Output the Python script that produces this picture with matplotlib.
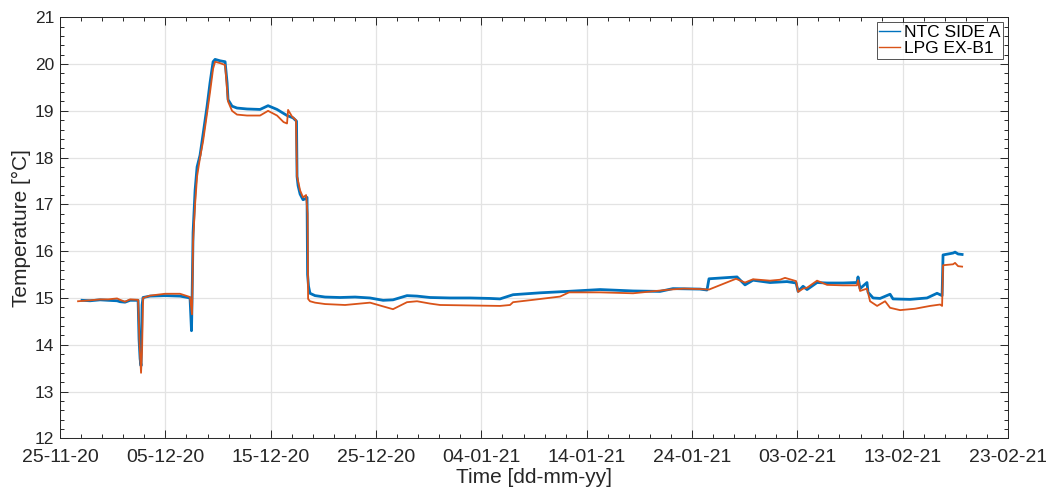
import matplotlib
matplotlib.use('Agg')
import matplotlib.pyplot as plt
import matplotlib.dates as mdates
from matplotlib.ticker import AutoMinorLocator
import numpy as np
import pandas as pd

plt.rcParams['font.family'] = ['Liberation Sans', 'DejaVu Sans']

t0 = pd.Timestamp('2020-11-25')

# NTC SIDE A: days since 25-11-20, temperature in degC
ntc_days = [2.09, 2.85, 3.80, 4.56, 5.41, 5.70, 6.17, 6.65, 7.41, 7.50, 7.60, 7.69,
            7.79, 7.88, 8.54, 9.97, 11.39, 12.34, 12.48, 12.53, 12.63, 12.82, 13.01,
            13.29, 13.58, 13.96, 14.24, 14.53, 14.72, 15.19, 15.67, 15.86, 15.95,
            16.33, 16.80, 17.75, 18.99, 19.75, 20.60, 21.55, 22.12, 22.45, 22.50,
            22.60, 22.79, 23.07, 23.36, 23.45, 23.50, 23.59, 23.73, 24.21, 25.16,
            26.58, 28.01, 29.43, 30.67, 31.61, 32.94, 33.89, 35.13, 37.03, 38.93,
            40.82, 41.77, 43.01, 45.57, 48.13, 51.27, 54.40, 56.96, 58.19, 60.76,
            61.42, 61.61, 62.95, 64.27, 65.03, 65.79, 67.41, 69.02, 69.88, 70.07,
            70.54, 70.92, 71.87, 72.82, 74.34, 75.66, 75.76, 75.95, 76.61, 76.71,
            77.19, 77.85, 78.80, 79.08, 80.70, 82.31, 83.26, 83.74, 83.83, 84.31,
            84.78, 84.97, 85.26, 85.64]
ntc_temp = [14.95, 14.94, 14.96, 14.95, 14.94, 14.92, 14.91, 14.95, 14.95, 14.12, 13.70, 13.55,
            14.85, 15.01, 15.04, 15.05, 15.04, 15.00, 14.30, 14.90, 16.40, 17.30, 17.80,
            18.05, 18.50, 19.10, 19.60, 20.05, 20.10, 20.07, 20.05, 19.60, 19.24,
            19.10, 19.06, 19.04, 19.03, 19.11, 19.03, 18.90, 18.85, 18.78, 17.60,
            17.40, 17.22, 17.10, 17.13, 17.15, 15.50, 15.25, 15.10, 15.05, 15.02,
            15.01, 15.02, 15.00, 14.95, 14.96, 15.05, 15.04, 15.01, 15.00, 15.00,
            14.99, 14.98, 15.07, 15.11, 15.14, 15.18, 15.15, 15.14, 15.20, 15.19,
            15.17, 15.41, 15.43, 15.45, 15.28, 15.38, 15.33, 15.35, 15.32, 15.14,
            15.25, 15.18, 15.33, 15.32, 15.32, 15.33, 15.45, 15.20, 15.33, 15.12,
            15.00, 14.99, 15.08, 14.98, 14.97, 15.00, 15.10, 15.05, 15.92, 15.94,
            15.96, 15.98, 15.94, 15.93]

# LPG EX-B1
lpg_days = [1.71, 2.85, 3.80, 4.56, 5.41, 5.70, 6.17, 6.65, 7.41, 7.55, 7.69, 7.79,
            7.88, 8.54, 9.97, 11.39, 12.34, 12.53, 12.63, 12.82, 13.01, 13.29, 13.58,
            13.96, 14.24, 14.53, 14.72, 15.19, 15.67, 15.95, 16.33, 16.80, 17.75,
            18.99, 19.75, 20.60, 21.22, 21.55, 21.65, 22.02, 22.40, 22.50, 22.79,
            23.07, 23.36, 23.50, 23.55, 23.73, 24.21, 25.16, 27.06, 29.43, 30.67,
            31.61, 32.94, 33.89, 35.13, 36.08, 41.77, 42.72, 43.01, 44.91, 47.47,
            48.32, 51.27, 54.40, 57.91, 59.24, 60.76, 61.61, 64.17, 65.03, 65.79,
            67.41, 68.35, 68.83, 69.88, 70.07, 70.54, 70.92, 71.87, 72.82, 74.34,
            75.66, 75.76, 75.95, 76.61, 76.90, 77.57, 78.33, 78.80, 79.75, 81.17,
            82.60, 83.55, 83.74, 83.83, 84.78, 84.97, 85.26, 85.64]
lpg_temp = [14.93, 14.95, 14.97, 14.97, 14.99, 14.96, 14.92, 14.97, 14.96, 14.00, 13.40, 13.90,
            15.00, 15.05, 15.09, 15.09, 15.02, 14.65, 16.20, 17.00, 17.60, 18.00, 18.35,
            18.95, 19.40, 19.90, 20.05, 20.02, 19.98, 19.20, 19.00, 18.92, 18.90,
            18.90, 19.00, 18.90, 18.76, 18.73, 19.02, 18.88, 18.80, 17.60, 17.30,
            17.15, 17.20, 16.80, 14.98, 14.93, 14.90, 14.87, 14.85, 14.90, 14.82,
            14.76, 14.91, 14.93, 14.88, 14.85, 14.83, 14.85, 14.91, 14.96, 15.03,
            15.12, 15.12, 15.10, 15.18, 15.20, 15.19, 15.18, 15.41, 15.33, 15.40,
            15.37, 15.39, 15.43, 15.36, 15.13, 15.20, 15.22, 15.37, 15.28, 15.27,
            15.27, 15.38, 15.15, 15.20, 14.93, 14.83, 14.93, 14.79, 14.74, 14.77,
            14.83, 14.86, 14.83, 15.70, 15.72, 15.75, 15.68, 15.67]


def to_dates(days):
    return t0 + pd.to_timedelta(np.array(days), unit='D')


ink = '#262626'
fig = plt.figure(figsize=(10.46, 4.91), dpi=100)
ax = fig.add_axes([0.0574, 0.1073, 0.9063, 0.8575])

ax.plot(to_dates(ntc_days), ntc_temp, '-', color='#0072BD', lw=2.0, label='NTC SIDE A')
ax.plot(to_dates(lpg_days), lpg_temp, '-', color='#D95319', lw=1.3, label='LPG EX-B1')

xmajor = [t0 + pd.Timedelta(days=10 * k) for k in range(10)]
xminor = [t0 + pd.Timedelta(days=2 * k) for k in range(46)]
ax.set_xlim(xmajor[0], xmajor[-1])
ax.set_xticks(xmajor)
ax.set_xticks(xminor, minor=True)
ax.xaxis.set_major_formatter(mdates.DateFormatter('%d-%m-%y'))

ax.set_ylim(12, 21)
ax.set_yticks(np.arange(12, 22, 1))
ax.yaxis.set_minor_locator(AutoMinorLocator(5))

ax.grid(True, which='major', color='#e3e3e3', lw=0.9)
ax.set_axisbelow(True)
for s in ax.spines.values():
    s.set_color(ink)
    s.set_linewidth(0.7)
ax.tick_params(which='both', direction='in', top=True, right=True, color=ink, width=0.7)
ax.tick_params(which='major', length=5.5)
ax.tick_params(which='minor', length=3.2)
ax.tick_params(axis='x', labelsize=14, labelcolor=ink, pad=8)
ax.tick_params(axis='y', labelsize=12.5, labelcolor=ink, pad=4)

ax.set_xlabel('Time [dd-mm-yy]', fontsize=15, color=ink, labelpad=1)
ax.set_ylabel('Temperature [\u00b0C]', fontsize=15, color=ink, labelpad=3)

leg = ax.legend(loc='upper right', fontsize=12.5, frameon=True, fancybox=False,
                borderaxespad=0.3, borderpad=0.15, labelspacing=0.05,
                handlelength=1.2, handletextpad=0.2)
leg.get_frame().set_edgecolor(ink)
leg.get_frame().set_linewidth(0.7)
for line in leg.get_lines():
    line.set_linewidth(1.0)

fig.savefig('out.png', dpi=100)
